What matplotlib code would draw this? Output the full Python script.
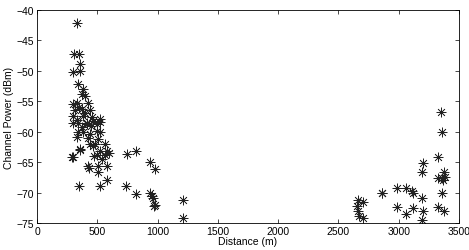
import matplotlib
matplotlib.use("Agg")
import matplotlib.pyplot as plt

plt.rcParams['font.family'] = ['Liberation Sans', 'DejaVu Sans']

# measured distance (m) and channel power (dBm)
distance = [332, 307, 351, 357, 296, 357,
            343, 382, 371, 398, 329, 301, 426, 371, 315, 440, 301, 384, 454, 467,
            523, 343, 412, 495, 371,
            301, 412, 523, 343, 329, 440, 495, 509, 440, 467, 357, 523, 578,
            296, 495, 564, 426, 509, 578, 509, 288, 434, 351, 523, 578,
            400, 450, 420, 480, 380, 350, 520, 560, 600, 470, 540, 330, 360,
            744, 818, 738, 821, 937, 979, 937, 951, 965, 973, 979,
            1214, 1214,
            2665, 2707, 2651, 2665, 2672, 2707, 2859, 2859,
            2988, 3060, 3108, 3121, 2988, 3060, 3121, 3190, 3199, 3190,
            3199, 3190, 3328, 3351, 3359, 3376, 3328, 3357, 3370, 3384, 3357,
            3328, 3376]
power = [-42.1, -47.2, -47.3, -48.9, -50.2, -50.1,
         -52.2, -53.0, -53.8, -54.1, -55.2, -55.4, -55.2, -56.3, -56.5, -56.5, -57.4, -57.4, -57.6, -58.2,
         -57.9, -58.5, -58.7, -58.7, -59.3,
         -58.5, -58.5, -58.4, -60.1, -60.9, -60.4, -59.8, -61.2, -62.0, -62.3, -62.8, -63.1, -63.1,
         -64.2, -63.9, -63.9, -65.6, -65.6, -65.6, -66.7, -64.2, -65.9, -68.9, -68.9, -67.9,
         -57.0, -59.0, -61.0, -62.0, -60.0, -56.0, -60.0, -62.0, -63.5, -64.0, -64.5, -58.0, -63.0,
         -63.7, -63.1, -69.0, -70.2, -64.9, -66.2, -70.1, -70.5, -70.9, -72.2, -72.0,
         -71.3, -74.1,
         -71.3, -71.5, -72.2, -73.1, -73.8, -74.2, -70.0, -70.1,
         -69.3, -69.2, -69.7, -70.0, -72.3, -73.5, -72.5, -70.9, -73.1, -74.5,
         -65.1, -66.7, -64.2, -56.7, -60.1, -66.7, -67.6, -67.6, -68.0, -67.5, -70.1,
         -72.3, -73.0]

xticks = [0, 500, 1000, 1500, 2000, 2500, 3000, 3500]
yticks = [-75, -70, -65, -60, -55, -50, -45, -40]

fig = plt.figure(figsize=(4.69, 2.51), dpi=100)
ax = fig.add_axes([0.0789, 0.1076, 0.8998, 0.8484])

ax.plot(distance, power, linestyle='none', marker=(8, 2, 0), markersize=7,
        color='#222222', markeredgewidth=0.5)

ax.set_xlim(0, 3500)
ax.set_ylim(-75, -40)
ax.set_xticks(xticks)
ax.set_yticks(yticks)
ax.tick_params(direction='in', top=True, right=True, labelsize=7.5,
               length=3, width=0.5, pad=2)
for s in ax.spines.values():
    s.set_linewidth(0.6)

ax.set_xlabel('Distance (m)', fontsize=7.5, labelpad=0)
ax.set_ylabel('Channel Power (dBm)', fontsize=7.5, labelpad=2)

fig.savefig('out.png', dpi=100)
